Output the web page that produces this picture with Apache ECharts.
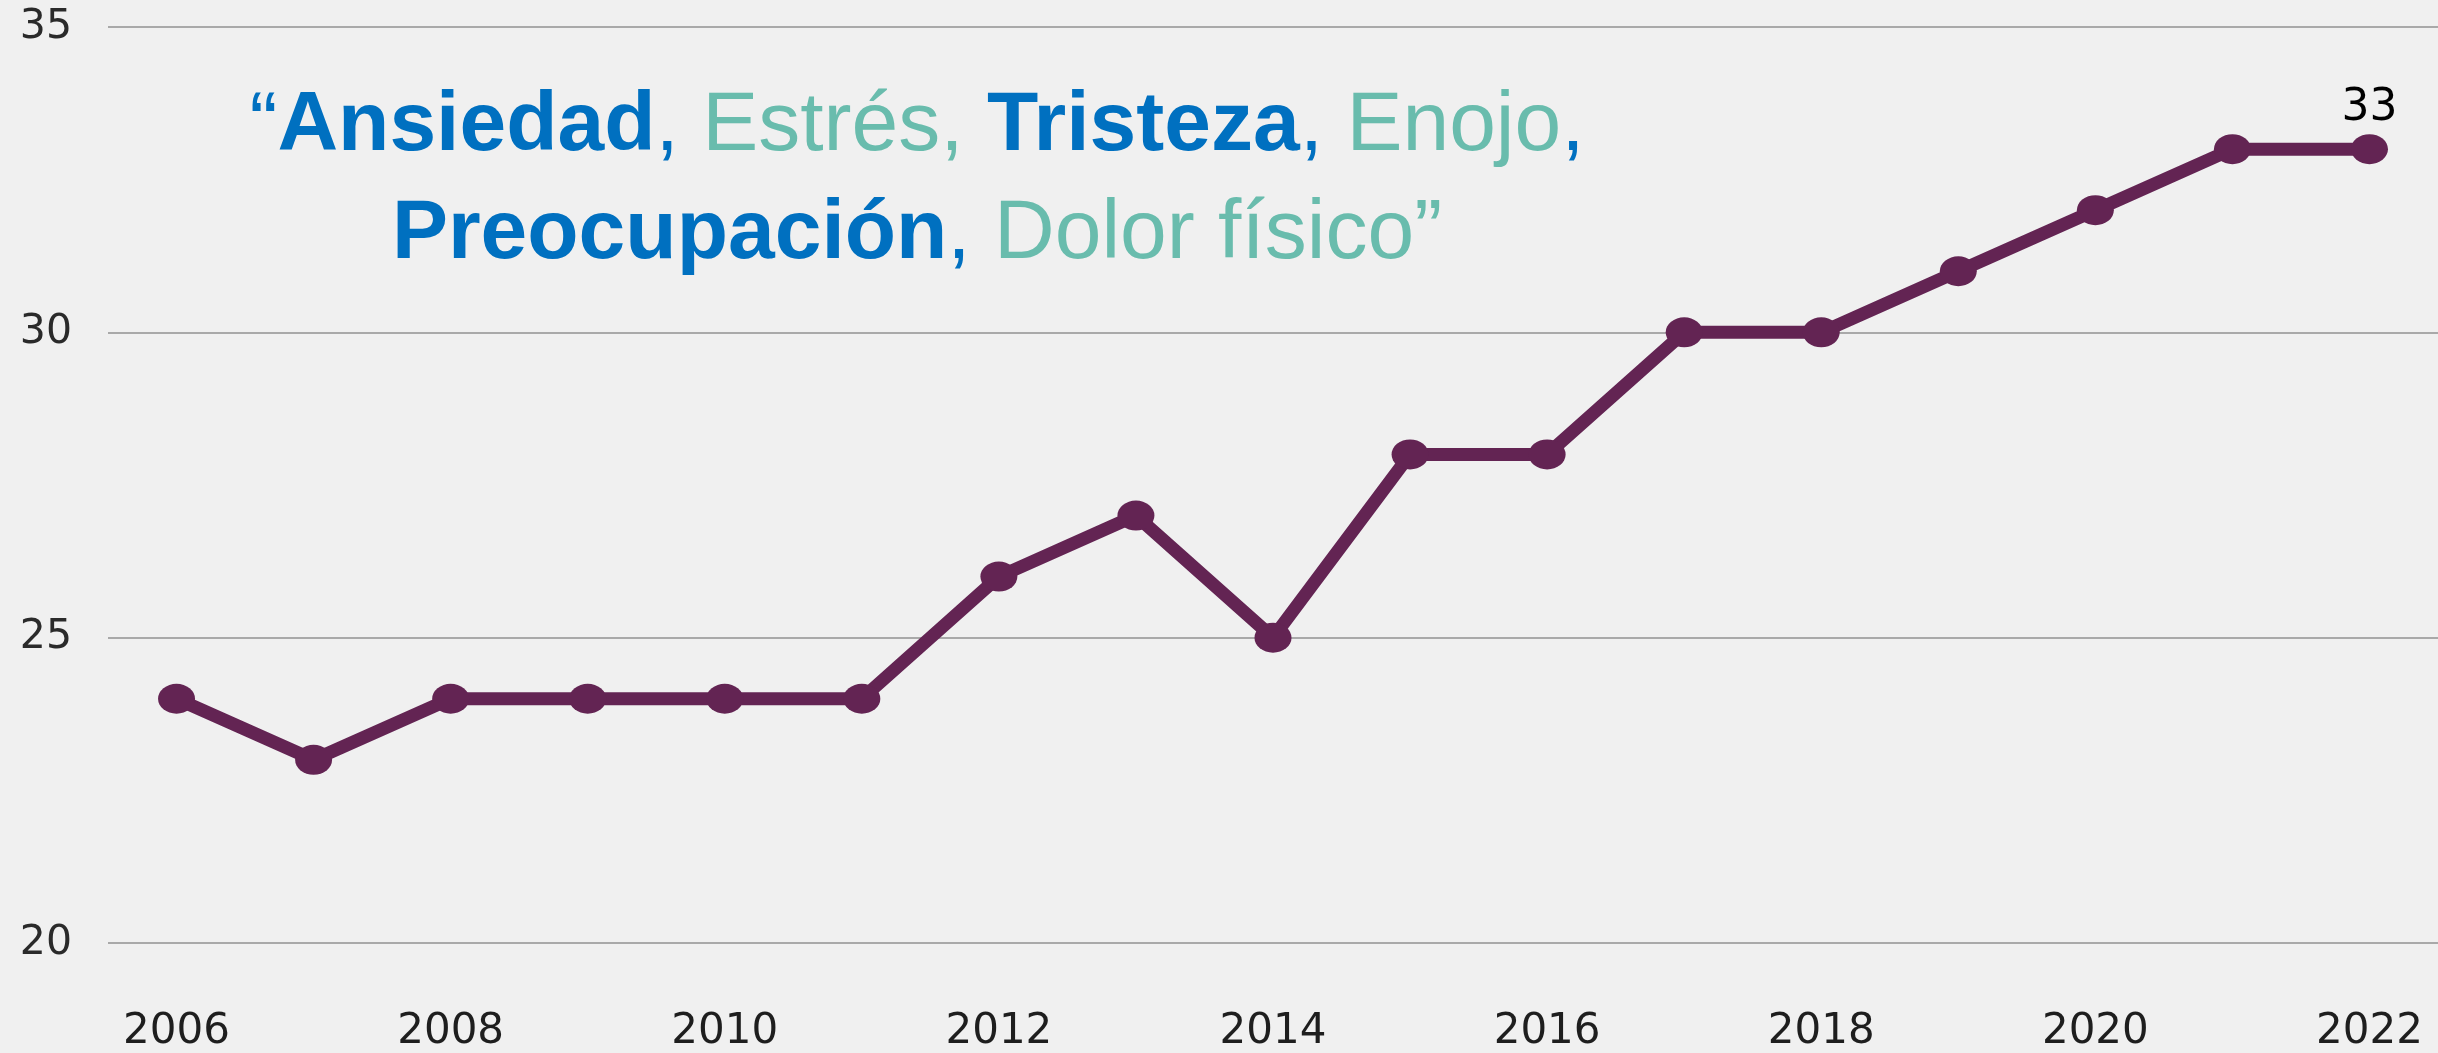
<!DOCTYPE html>
<html>
<head>
<meta charset="utf-8">
<script src="https://cdn.jsdelivr.net/npm/echarts@6/dist/echarts.min.js"></script>
<style>
  html, body { margin: 0; padding: 0; background: #f0f0f0; }
  #chart { width: 2438px; height: 1053px; }
</style>
</head>
<body>
<div id="chart"></div>
<script>
// años y valores
const years = ['2006', '2007', '2008', '2009', '2010', '2011', '2012', '2013', '2014',
               '2015', '2016', '2017', '2018', '2019', '2020', '2021', '2022'];
const values = [24, 23, 24, 24, 24, 24, 26, 27, 25, 28, 28, 30, 30, 31, 32, 33, 33];
const yTicks = [20, 25, 30, 35];

const font = 'Liberation Sans, Arial, sans-serif';
const axisFont = 'DejaVu Sans, sans-serif';
const lineColor = '#632453';
const blue = '#0070c0';
const teal = '#69bcad';

let myChart = echarts.init(document.getElementById('chart'));

// solo el último punto lleva etiqueta
let seriesData = values.map((v, i) => {
    if (i === values.length - 1) {
        return { value: v, label: { show: true } };
    }
    return v;
});

let options = {
    backgroundColor: '#f0f0f0',
    animation: false,
    grid: {
        left: 108,
        right: -8,
        top: 27,
        bottom: 110
    },
    xAxis: {
        type: 'category',
        boundaryGap: true,
        data: years,
        axisLine: { show: false },
        axisTick: { show: false },
        splitLine: { show: false },
        axisLabel: {
            interval: 1,
            margin: 68,
            fontSize: 42,
            fontFamily: axisFont,
            color: '#1e1e1e'
        }
    },
    yAxis: {
        type: 'value',
        min: yTicks[0],
        max: yTicks[yTicks.length - 1],
        interval: 5,
        axisLine: { show: false },
        axisTick: { show: false },
        axisLabel: {
            margin: 36,
            fontSize: 41,
            fontFamily: axisFont,
            color: '#2a2a2a'
        },
        splitLine: {
            show: true,
            lineStyle: { color: '#a9a9a9', width: 2 }
        }
    },
    graphic: [{
        type: 'text',
        x: 917,
        y: 181,
        style: {
            text: '{bq|“}{b|Ansiedad}{bn|, }{t|Estrés, }{b|Tristeza}{bn|, }{t|Enojo}{bn|,}\n' +
                  '{b|Preocupación}{bn|, }{t|Dolor físico”}',
            align: 'center',
            verticalAlign: 'middle',
            rich: {
                bq: { fontSize: 84, fontFamily: font, fill: blue, lineHeight: 108 },
                b: { fontSize: 84, fontFamily: font, fontWeight: 'bold', fill: blue, lineHeight: 108 },
                bn: { fontSize: 84, fontFamily: font, fill: blue, lineHeight: 108 },
                t: { fontSize: 84, fontFamily: font, fill: teal, lineHeight: 108 }
            }
        }
    }],
    series: [{
        type: 'line',
        data: seriesData,
        symbol: 'circle',
        symbolSize: [37, 30],
        itemStyle: { color: lineColor },
        lineStyle: { color: lineColor, width: 13 },
        label: {
            show: false,
            position: 'top',
            distance: 4,
            fontSize: 44,
            fontFamily: axisFont,
            color: '#000'
        }
    }]
};

myChart.setOption(options);
window.addEventListener('resize', () => { myChart.resize(); });
</script>
</body>
</html>
